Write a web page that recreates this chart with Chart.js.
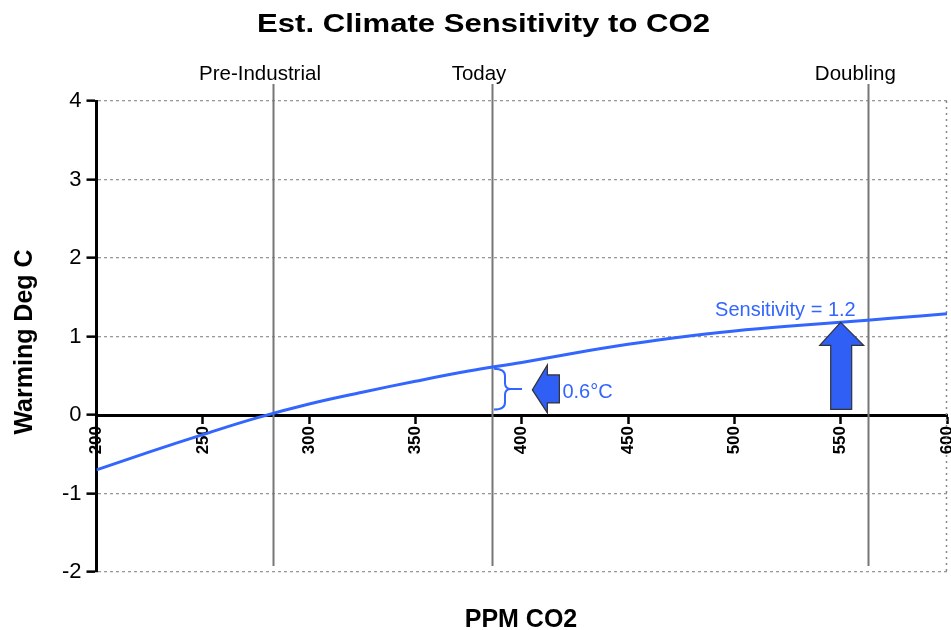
<!DOCTYPE html>
<html>
<head>
<meta charset="utf-8">
<script src="https://cdn.jsdelivr.net/npm/chart.js@4.4.1/dist/chart.umd.min.js"></script>
<style>
  html, body { margin: 0; padding: 0; background: #ffffff; }
  #wrap { width: 951px; height: 630px; position: relative; }
</style>
</head>
<body>
<div id="wrap"><canvas id="c" width="951" height="630"></canvas></div>
<script>
// ---- data ----
const ppm = [200, 225, 250, 275, 300, 325, 350, 375, 400, 425, 450, 475, 500, 525, 550, 575, 600];
const warming = [-0.70, -0.47, -0.25, -0.04, 0.14, 0.29, 0.43, 0.56, 0.67, 0.79, 0.90, 0.995, 1.07, 1.13, 1.18, 1.235, 1.29];
const xTicks = [200, 250, 300, 350, 400, 450, 500, 550, 600];
const yTicks = [-2, -1, 0, 1, 2, 3, 4];
const markerNames = ['Pre-Industrial', 'Today', 'Doubling'];
const markerPpm = [283, 386, 563];
const todayWarming = [0.07, 0.59];      // brace span (deg C)
const todayArrowTip = [405, 0.32];      // ppm, deg C
const sensitivityTip = [550, 1.18];     // ppm, deg C
const todayLabel = '0.6°C';
const sensitivityLabel = 'Sensitivity = 1.2';
const chartTitle = 'Est. Climate Sensitivity to CO2';
const xTitle = 'PPM CO2';
const yTitle = 'Warming Deg C';

const FONT = "'Liberation Sans', Arial, sans-serif";
const BLUE = '#3366ff';
const ARROW = '#2f5ff5';

const overlay = {
  id: 'overlay',
  beforeDatasetsDraw(chart) {
    const {ctx, scales: {x, y}, chartArea: a} = chart;
    ctx.save();
    // right dotted frame
    ctx.strokeStyle = '#888';
    ctx.lineWidth = 1.5;
    ctx.setLineDash([2, 4]);
    ctx.beginPath();
    ctx.moveTo(a.right - 0.5, a.top);
    ctx.lineTo(a.right - 0.5, a.bottom);
    ctx.stroke();
    ctx.setLineDash([]);
    // vertical marker lines
    ctx.strokeStyle = '#777';
    ctx.lineWidth = 2;
    markerPpm.forEach(v => {
      const px = Math.round(x.getPixelForValue(v)) + 0.5;
      ctx.beginPath();
      ctx.moveTo(px, a.top - 17);
      ctx.lineTo(px, a.bottom - 6);
      ctx.stroke();
    });
    ctx.restore();
  },
  afterDatasetsDraw(chart) {
    const {ctx, scales: {x, y}} = chart;
    ctx.save();
    // brace at today
    const bx = x.getPixelForValue(386) + 2;
    const top = y.getPixelForValue(todayWarming[1]);
    const bot = y.getPixelForValue(todayWarming[0]);
    const mid = (top + bot) / 2;
    const w = 11;
    ctx.strokeStyle = BLUE;
    ctx.lineWidth = 2;
    ctx.beginPath();
    ctx.moveTo(bx, top);
    ctx.quadraticCurveTo(bx + w, top, bx + w, top + 7);
    ctx.lineTo(bx + w, mid - 6);
    ctx.quadraticCurveTo(bx + w, mid, bx + w + 6, mid);
    ctx.lineTo(bx + 28, mid);
    ctx.moveTo(bx + w + 6, mid);
    ctx.quadraticCurveTo(bx + w, mid, bx + w, mid + 6);
    ctx.lineTo(bx + w, bot - 7);
    ctx.quadraticCurveTo(bx + w, bot, bx, bot);
    ctx.stroke();

    const poly = (ox, oy, pts) => {
      ctx.beginPath();
      pts.forEach((p, i) => i ? ctx.lineTo(ox + p[0], oy + p[1]) : ctx.moveTo(ox + p[0], oy + p[1]));
      ctx.closePath();
      ctx.fillStyle = ARROW;
      ctx.fill();
      ctx.strokeStyle = '#333';
      ctx.lineWidth = 1.2;
      ctx.stroke();
    };
    // left arrow
    const lx = x.getPixelForValue(todayArrowTip[0]);
    const ly = y.getPixelForValue(todayArrowTip[1]);
    poly(lx, ly, [[0, 0], [15, -25], [15, -15], [27, -15], [27, 13], [15, 13], [15, 23]]);
    // up arrow
    const ux = x.getPixelForValue(sensitivityTip[0]);
    const uy = y.getPixelForValue(sensitivityTip[1]);
    poly(ux, uy, [[0, 0], [23, 23], [11, 23], [11, 87], [-10, 87], [-10, 23], [-21, 23]]);

    // annotation texts
    ctx.fillStyle = BLUE;
    ctx.font = '20px ' + FONT;
    ctx.textBaseline = 'alphabetic';
    ctx.textAlign = 'left';
    ctx.fillText(todayLabel, lx + 30, ly + 8);
    ctx.textAlign = 'right';
    ctx.fillText(sensitivityLabel, ux + 15, uy - 6);
    ctx.restore();
  },
  afterDraw(chart) {
    const {ctx, scales: {x}, chartArea: a} = chart;
    ctx.save();
    ctx.fillStyle = '#000';
    // title, fitted to reference width
    ctx.font = 'bold 26px ' + FONT;
    ctx.textAlign = 'center';
    ctx.textBaseline = 'alphabetic';
    const tw = ctx.measureText(chartTitle).width;
    const sx = 453 / tw;
    ctx.save();
    ctx.translate(483.5, 32);
    ctx.scale(sx, 1);
    ctx.fillText(chartTitle, 0, 0);
    ctx.restore();
    // x title
    ctx.font = 'bold 25px ' + FONT;
    ctx.fillText(xTitle, 521, 627);
    // y title
    ctx.save();
    ctx.translate(32, 342);
    ctx.rotate(-Math.PI / 2);
    ctx.fillText(yTitle, 0, 0);
    ctx.restore();
    // marker labels
    ctx.font = '20.5px ' + FONT;
    markerNames.forEach((n, i) => {
      ctx.fillText(n, x.getPixelForValue(markerPpm[i]) - 13, 80);
    });
    ctx.restore();
  }
};

new Chart(document.getElementById('c'), {
  type: 'line',
  data: {
    datasets: [{
      data: ppm.map((p, i) => ({x: p, y: warming[i]})),
      borderColor: BLUE,
      borderWidth: 3,
      pointRadius: 0,
      tension: 0.4,
      fill: false
    }]
  },
  options: {
    responsive: false,
    animation: false,
    events: [],
    layout: { padding: { left: 40, top: 101, right: 4, bottom: 58 } },
    plugins: { legend: { display: false }, title: { display: false }, tooltip: { enabled: false } },
    scales: {
      x: {
        type: 'linear',
        min: 200, max: 600,
        position: { y: 0 },
        afterBuildTicks: s => { s.ticks = xTicks.map(v => ({value: v})); },
        afterFit: s => { s.paddingLeft = 0; s.paddingRight = 0; },
        ticks: {
          maxRotation: 90, minRotation: 90,
          color: '#000', padding: 4,
          font: { family: FONT, size: 17, weight: 'bold' }
        },
        grid: { drawOnChartArea: false, drawTicks: true, tickLength: 7, tickColor: '#000', tickWidth: 2.5 },
        border: { color: '#000', width: 3 }
      },
      y: {
        type: 'linear',
        min: -2, max: 4,
        afterBuildTicks: s => { s.ticks = yTicks.map(v => ({value: v})); },
        afterFit: s => { s.width = 56.5; },
        ticks: { color: '#000', padding: 5, font: { family: FONT, size: 22 } },
        grid: { color: '#999', lineWidth: 1.3, tickLength: 10, tickColor: '#000', tickWidth: 2.5 },
        border: { color: '#000', width: 3, dash: [3, 3] }
      }
    }
  },
  plugins: [overlay]
});
</script>
</body>
</html>
